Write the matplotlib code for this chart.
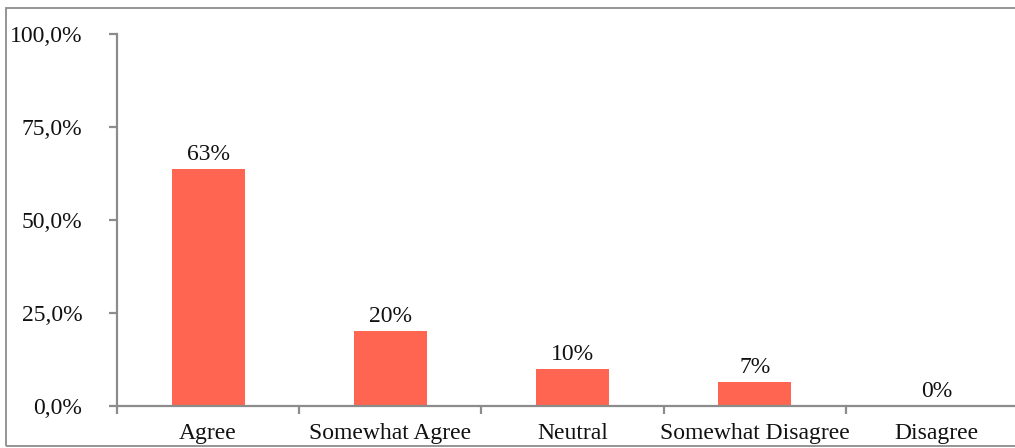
import matplotlib
matplotlib.use("Agg")
import matplotlib.pyplot as plt
from matplotlib.patches import Rectangle
from matplotlib.ticker import FuncFormatter
import numpy as np

categories = ["Agree", "Somewhat Agree", "Neutral", "Somewhat Disagree", "Disagree"]
values = [63.7, 20.2, 9.9, 6.5, 0.0]
labels = ["63%", "20%", "10%", "7%", "0%"]
yticks = [0, 25, 50, 75, 100]

plt.rcParams['font.family'] = ['Liberation Serif', 'DejaVu Serif']

W, H = 1015, 448
FS = 17
fig = plt.figure(figsize=(W/100, H/100), dpi=100)
ax = fig.add_axes([117/W, 1-406/H, (1028-117)/W, (406-34)/H])

x = np.arange(len(categories))
bars = ax.bar(x, values, width=0.4, color='#FF6550', zorder=2)
for xi, v, lab in zip(x, values, labels):
    ax.text(xi, v + 1.0, lab, ha='center', va='bottom', fontsize=FS, color='#111111')

ax.set_xlim(-0.5, len(categories)-0.5)
ax.set_ylim(0, 100)
ax.set_yticks(yticks)
ax.yaxis.set_major_formatter(FuncFormatter(lambda v, p: f"{v:.1f}%".replace('.', ',')))
ax.set_xticks(x)
ax.set_xticklabels(categories)
ax.set_xticks(np.arange(-0.5, len(categories), 1.0), minor=True)

gray = '#8c8c8c'
for s in ['top', 'right']:
    ax.spines[s].set_visible(False)
for s in ['left', 'bottom']:
    ax.spines[s].set_color(gray)
    ax.spines[s].set_linewidth(1.6)

ax.tick_params(axis='y', direction='out', length=6, width=1.6, color=gray, pad=19, labelsize=FS, labelcolor='#111111')
ax.tick_params(axis='x', which='major', length=0, pad=12, labelsize=FS, labelcolor='#111111')
ax.tick_params(axis='x', which='minor', direction='out', length=6, width=1.6, color=gray)

fig.patches.append(Rectangle((6/W, 2/H), 1.2, 1-10/H, transform=fig.transFigure,
                             fill=False, edgecolor=gray, linewidth=1.3))

fig.savefig("out.png", dpi=100)
